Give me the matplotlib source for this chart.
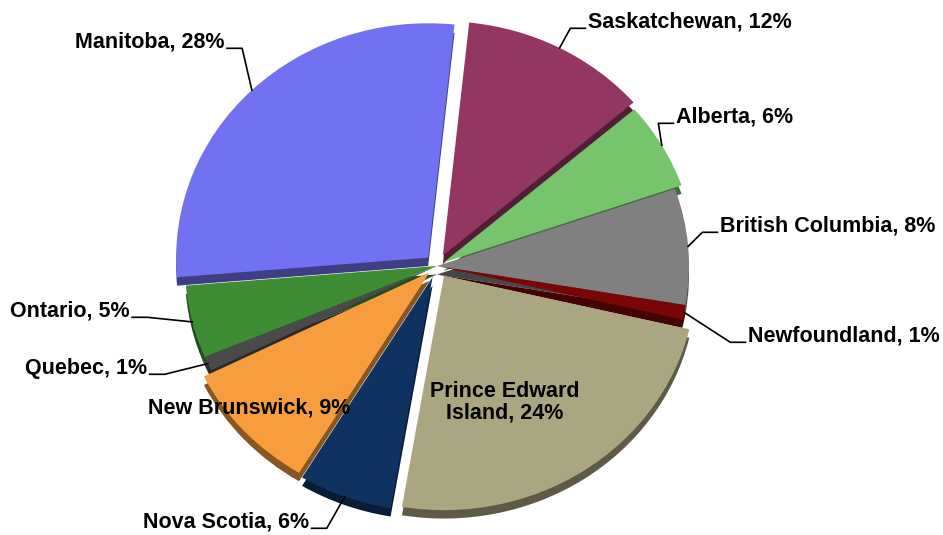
import numpy as np
import matplotlib
matplotlib.use("Agg")
from matplotlib import pyplot as plt
from matplotlib.transforms import Affine2D

# Daten (im Uhrzeigersinn ab oben)
provinces = ["Saskatchewan", "Alberta", "British Columbia", "Newfoundland",
             "Prince Edward\nIsland", "Nova Scotia", "New Brunswick", "Quebec",
             "Ontario", "Manitoba"]
shares = [12, 6, 8, 1, 24, 6, 9, 1, 5, 28]
colors = ["#943662", "#76C46C", "#808080", "#7A0505", "#A9A680",
          "#0E3360", "#F89D3E", "#4A4A4A", "#3E8C34", "#7171F2"]
explode = [0.05, 0.03, 0.0, 0.0, 0.05, 0.05, 0.04, 0.0, 0.0, 0.05]

# Label-Positionen in Pixeln (links/Mitte der Textzeile)
label_pos = [(588, 22), (676, 117), (720, 226), (748, 336), (505, 402),
             (143, 522), (148, 408), (25, 368), (10, 311), (75, 42)]
label_ha = ["left", "left", "left", "left", "center", "left", "left", "left", "left", "left"]

W, H = 943, 535
CX, CY, R = 437, 266, 252
SY = 0.93  # leichte Perspektive (Ellipse)
START = 84


def px(x, y):
    return (x - CX) / R, (CY - y) / R


def darker(c, f=0.55):
    rgb = np.array(matplotlib.colors.to_rgb(c))
    return tuple(rgb * f)


fig = plt.figure(figsize=(W / 100, H / 100), dpi=100)
ax = fig.add_axes([0, 0, 1, 1])

# Tiefe (3D-Rand)
shadow, _ = ax.pie(shares, colors=[darker(c) for c in colors], explode=explode,
                   startangle=START, counterclock=False, radius=1.0, center=(0, -0.036),
                   wedgeprops=dict(linewidth=0))
wedges, _ = ax.pie(shares, colors=colors, explode=explode, startangle=START,
                   counterclock=False, radius=1.0, center=(0, 0),
                   wedgeprops=dict(linewidth=0))

ax.set_xlim(-CX / R, (W - CX) / R)
ax.set_ylim(-(H - CY) / R, CY / R)
ax.set_aspect("equal")
ax.axis("off")

squash = Affine2D().scale(1, SY)
for w in list(shadow) + list(wedges):
    w.set_transform(squash + ax.transData)

font = dict(family=["Liberation Sans", "DejaVu Sans"], fontweight="bold",
            fontsize=15.5, color="black")

renderer = fig.canvas.get_renderer()
for i, w in enumerate(wedges):
    text = f"{provinces[i]}, {shares[i]}%"
    tx, ty = px(*label_pos[i])
    t = ax.text(tx, ty, text, ha=label_ha[i], va="center",
                multialignment="center", linespacing=1.0, **font)
    if label_ha[i] == "center" or i == 6:
        continue
    ang = np.deg2rad((w.theta1 + w.theta2) / 2)
    ex, ey = w.center
    edge = (ex + np.cos(ang), (ey + np.sin(ang)) * SY)
    # Knickpunkt neben dem Text
    if tx > 0:
        end = (tx - 0.01, ty - 0.025)
        elbow = (tx - 0.07, ty - 0.025)
    else:
        bb = t.get_window_extent(renderer=renderer)
        right = (bb.x1 - CX) / R
        end = (right + 0.01, ty - 0.025)
        elbow = (right + 0.07, ty - 0.025)
    ax.plot([edge[0], elbow[0], end[0]], [edge[1], elbow[1], end[1]],
            color="black", lw=1.2)

fig.savefig("out.png", dpi=100)
